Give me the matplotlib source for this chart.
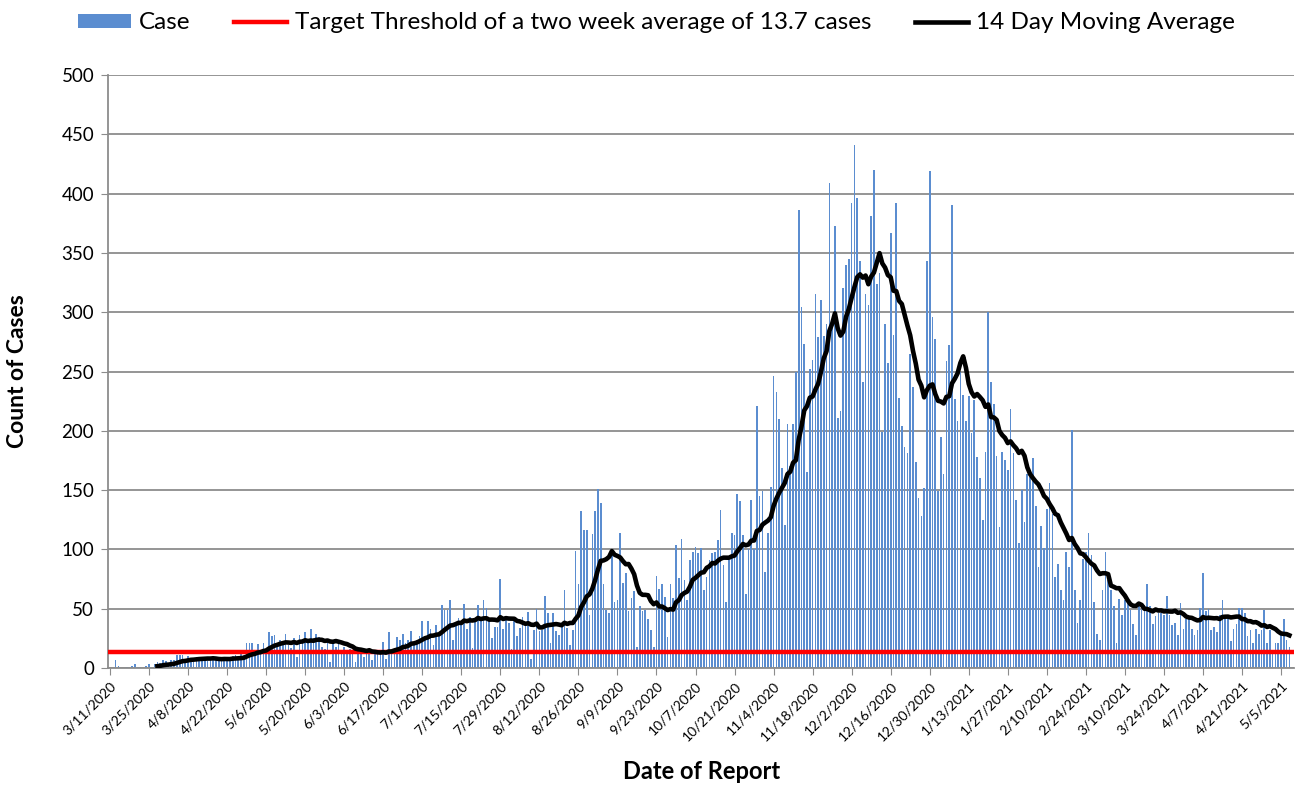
import matplotlib
matplotlib.use("Agg")
import matplotlib.pyplot as plt
from matplotlib.patches import Patch
from matplotlib.lines import Line2D
import numpy as np
import pandas as pd

plt.rcParams['font.family'] = ['Lato', 'DejaVu Sans']

# daily reported cases, starting 3/11/2020 (two-week blocks)
cases = [
    0, 0, 7, 2, 0, 0, 1, 0, 2, 3, 1, 1, 0, 2,
    3, 1, 3, 5, 4, 7, 6, 3, 7, 7, 11, 11, 11, 5,
    10, 7, 5, 9, 7, 9, 7, 6, 7, 10, 8, 6, 9, 7,
    9, 7, 10, 11, 8, 12, 11, 21, 21, 21, 15, 20, 14, 21,
    15, 30, 27, 28, 18, 24, 20, 29, 19, 17, 25, 9, 28, 24,
    30, 21, 33, 25, 29, 26, 18, 16, 24, 5, 22, 18, 20, 15,
    18, 14, 16, 13, 5, 17, 14, 9, 16, 13, 7, 15, 14, 12,
    22, 8, 30, 14, 17, 26, 24, 29, 21, 24, 31, 19, 24, 27,
    40, 26, 40, 33, 19, 36, 29, 53, 49, 49, 57, 24, 37, 42,
    38, 54, 33, 43, 17, 42, 53, 40, 57, 51, 40, 25, 35, 35,
    75, 33, 43, 38, 16, 41, 27, 34, 43, 37, 47, 8, 32, 50,
    31, 32, 61, 46, 21, 46, 31, 28, 35, 66, 34, 19, 32, 99,
    71, 132, 116, 116, 45, 113, 132, 151, 139, 71, 49, 46, 100, 56,
    57, 114, 72, 80, 48, 59, 65, 18, 52, 48, 49, 41, 32, 18,
    78, 67, 71, 60, 26, 71, 59, 104, 76, 109, 74, 57, 91, 98,
    102, 97, 101, 66, 77, 91, 97, 98, 108, 133, 87, 56, 91, 114,
    112, 147, 141, 112, 62, 100, 142, 100, 221, 145, 149, 81, 114, 153,
    246, 233, 210, 169, 121, 206, 170, 206, 250, 386, 304, 273, 165, 252,
    260, 315, 279, 310, 280, 290, 409, 290, 373, 211, 217, 320, 340, 345,
    392, 441, 396, 343, 241, 315, 306, 381, 420, 324, 333, 199, 290, 257,
    367, 281, 392, 228, 204, 186, 181, 265, 237, 174, 143, 128, 152, 343,
    419, 296, 277, 149, 195, 164, 259, 272, 390, 227, 208, 250, 230, 208,
    229, 198, 226, 178, 160, 125, 182, 300, 241, 223, 179, 119, 182, 175,
    167, 218, 181, 142, 105, 150, 123, 164, 161, 177, 137, 85, 120, 101,
    134, 156, 130, 77, 88, 66, 57, 98, 85, 201, 66, 38, 57, 92,
    98, 114, 95, 56, 29, 24, 66, 98, 74, 66, 52, 21, 58, 45,
    57, 58, 49, 37, 28, 52, 50, 53, 71, 52, 37, 44, 46, 46,
    45, 61, 45, 36, 38, 28, 55, 33, 41, 41, 33, 28, 32, 51,
    80, 48, 50, 32, 35, 30, 45, 57, 44, 42, 23, 33, 37, 51,
    51, 46, 27, 32, 21, 33, 29, 32, 49, 21, 32, 15, 21, 21,
    29, 41, 24, 18,
]
start_date = '2020-03-11'
threshold = 13.7
ma_start = '2020-03-28'  # moving average line drawn from this date

dates = pd.date_range(start_date, periods=len(cases), freq='D')
s = pd.Series(cases, index=dates, dtype=float)
ma = s.rolling(14, min_periods=1).mean()
ma[ma.index < pd.Timestamp(ma_start)] = np.nan

fig = plt.figure(figsize=(12.97, 7.85), dpi=100)
ax = fig.add_axes([0.0833, 0.149, 0.9147, 0.7555])

ax.bar(dates, s.values, width=0.6, color='#5B8DD0', zorder=2)
ax.axhline(threshold, color='#FF0000', lw=3.2, zorder=3)
ax.plot(ma.index, ma.values, color='black', lw=3.3, zorder=4)

ax.set_ylim(0, 500)
ax.set_yticks(range(0, 501, 50))
ax.grid(axis='y', color='#8C8C8C', lw=1.3, zorder=0)
ax.set_axisbelow(True)

ax.set_xlim(dates[0] - pd.Timedelta(days=0.7), dates[-1] + pd.Timedelta(days=1.8))
ticks = dates[::14]
ax.set_xticks(ticks)
ax.set_xticklabels([f"{d.month}/{d.day}/{d.year}" for d in ticks],
                   rotation=45, ha='right', rotation_mode='anchor', fontsize=10)
ax.tick_params(axis='y', labelsize=13.5, length=5, color='#8C8C8C', pad=5)
ax.tick_params(axis='x', length=5, color='#8C8C8C')

for side in ['top', 'right']:
    ax.spines[side].set_visible(False)
for side in ['left', 'bottom']:
    ax.spines[side].set_color('#8C8C8C')
    ax.spines[side].set_linewidth(1.3)

ax.set_ylabel('Count of Cases', fontsize=16.5, fontweight='bold', labelpad=24)
ax.set_xlabel('Date of Report', fontsize=17, fontweight='bold', labelpad=12)

handles = [
    Patch(facecolor='#5B8DD0', edgecolor='none'),
    Line2D([], [], color='#FF0000', lw=3.2),
    Line2D([], [], color='black', lw=3.3),
]
labels = ['Case', 'Target Threshold of a two week average of 13.7 cases',
          '14 Day Moving Average']
fig.legend(handles, labels, loc='upper center', bbox_to_anchor=(0.506, 1.012),
           ncol=3, frameon=False, fontsize=17.5, handlelength=2.2,
           handleheight=0.5, handletextpad=0.3, columnspacing=1.8)

fig.savefig('out.png', dpi=100)
